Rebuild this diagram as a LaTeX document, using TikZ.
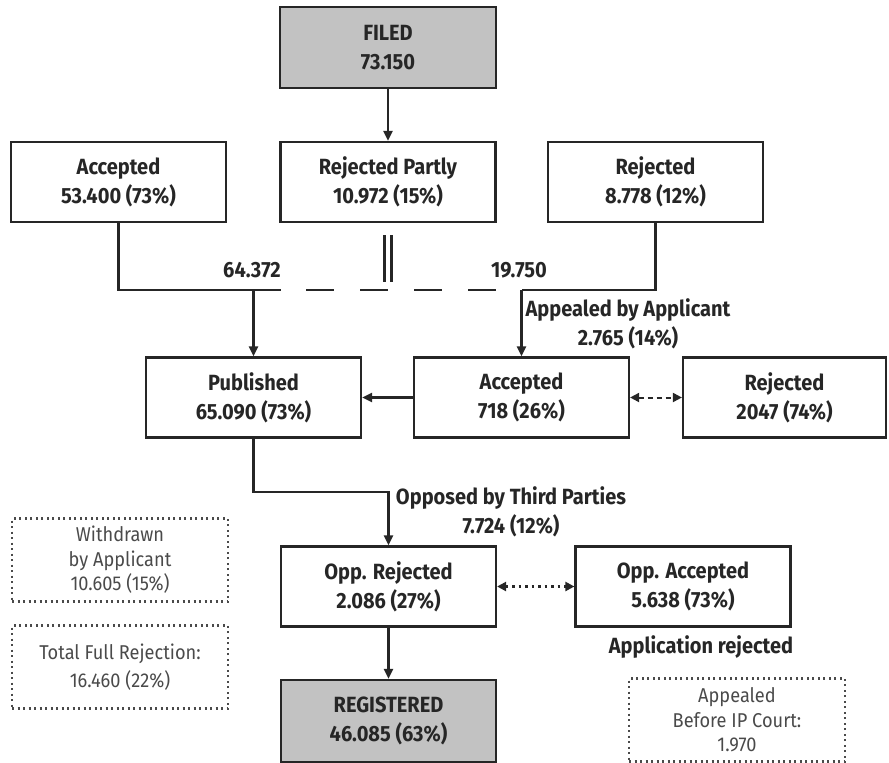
\documentclass[tikz,border=0pt]{standalone}
\usepackage{fontspec}
\setmainfont{Fira Sans}[FakeStretch=0.91]
\usetikzlibrary{arrows.meta}
\definecolor{ink}{HTML}{262626}
\definecolor{boxgray}{HTML}{C2C2C2}
\definecolor{soft}{HTML}{4A4A4A}
\begin{document}
\begin{tikzpicture}[x=1pt,y=-1pt,
  every node/.style={font=\fontsize{22}{29}\selectfont\bfseries, text=ink, align=center},
  solidbox/.style={draw=ink, line width=2.2pt, minimum width=215pt, minimum height=80pt, inner sep=0pt},
  graybox/.style={solidbox, fill=boxgray},
  dotbox/.style={draw=soft, line width=2.2pt, dash pattern=on 2pt off 3.5pt, minimum width=216pt, minimum height=83pt, inner sep=0pt, text=soft},
  conn/.style={draw=ink, line width=2.2pt},
  arr/.style={conn, -{Triangle[length=10pt,width=9pt]}},
  darr/.style={conn, line width=2pt, {Triangle[length=9pt,width=9pt]}-{Triangle[length=9pt,width=9pt]}}
]
\useasboundingbox (0,0) rectangle (889,763);

% solid boxes
\node[graybox, minimum width=216pt, minimum height=81pt] (filed) at (388,47.5) {FILED\\73.150};
\node[solidbox] (acc1) at (118.5,182) {Accepted\\53.400 (73\%)};
\node[solidbox] (rejp) at (388,182) {Rejected Partly\\10.972 (15\%)};
\node[solidbox] (rej1) at (655.5,182) {Rejected\\8.778 (12\%)};
\node[solidbox] (pub) at (253.5,397.5) {Published\\65.090 (73\%)};
\node[solidbox] (acc2) at (521.5,397.5) {Accepted\\718 (26\%)};
\node[solidbox, minimum width=203pt] (rej2) at (784.5,397.5) {Rejected\\2047 (74\%)};
\node[solidbox] (opprej) at (388.5,586.5) {Opp. Rejected\\2.086 (27\%)};
\node[solidbox] (oppacc) at (683,586.5) {Opp. Accepted\\5.638 (73\%)};
\node[graybox, minimum height=82pt] (reg) at (388.5,721) {REGISTERED\\46.085 (63\%)};

% dotted boxes
\node[dotbox, font=\fontsize{20}{24.5}\selectfont] (wd) at (120,560) {Withdrawn\\by Applicant\\10.605 (15\%)};
\node[dotbox, font=\fontsize{20}{28}\selectfont] (tfr) at (120,667) {Total Full Rejection:\\16.460 (22\%)};
\node[dotbox, font=\fontsize{20}{24.5}\selectfont] (ipc) at (737,720) {Appealed\\Before IP Court:\\1.970};

% coordinates
\coordinate (jl) at (253.5,290);
\coordinate (dashL) at (281,290);
\coordinate (dashR) at (521.5,290);
\coordinate (jo) at (388.5,492);
\coordinate (p1a) at (384.5,235);
\coordinate (p1b) at (384.5,282);
\coordinate (p2a) at (391.5,235);
\coordinate (p2b) at (391.5,282);

% connectors
\draw[arr] (filed.south) -- (rejp.north);
\draw[conn] (acc1.south) |- (dashL);
\draw[conn, dash pattern=on 28pt off 26pt, dash phase=29pt] (dashL) -- (dashR);
\draw[conn] (rej1.south) |- (dashR);
\draw[arr] (jl) -- (pub.north);
\draw[arr] (dashR) -- (acc2.north);
\draw[conn] (p1a) -- (p1b);
\draw[conn] (p2a) -- (p2b);
\draw[arr] (acc2.west) -- (pub.east);
\draw[darr, dash pattern=on 5pt off 4pt] (acc2.east) -- (rej2.west);
\draw[arr] (pub.south) |- (jo) -- (opprej.north);
\draw[darr, line width=2.5pt, dash pattern=on 2.5pt off 4pt] (opprej.east) -- (oppacc.west);
\draw[arr] (opprej.south) -- (reg.north);

% labels
\node (l64) at (252,270) {64.372};
\node (l19) at (519,270) {19.750};
\node (lapp) at (628,323.5) {Appealed by Applicant\\2.765 (14\%)};
\node (lopp) at (511,511.5) {Opposed by Third Parties\\7.724 (12\%)};
\node (lrej) at (701,647) {Application rejected};
\end{tikzpicture}
\end{document}
